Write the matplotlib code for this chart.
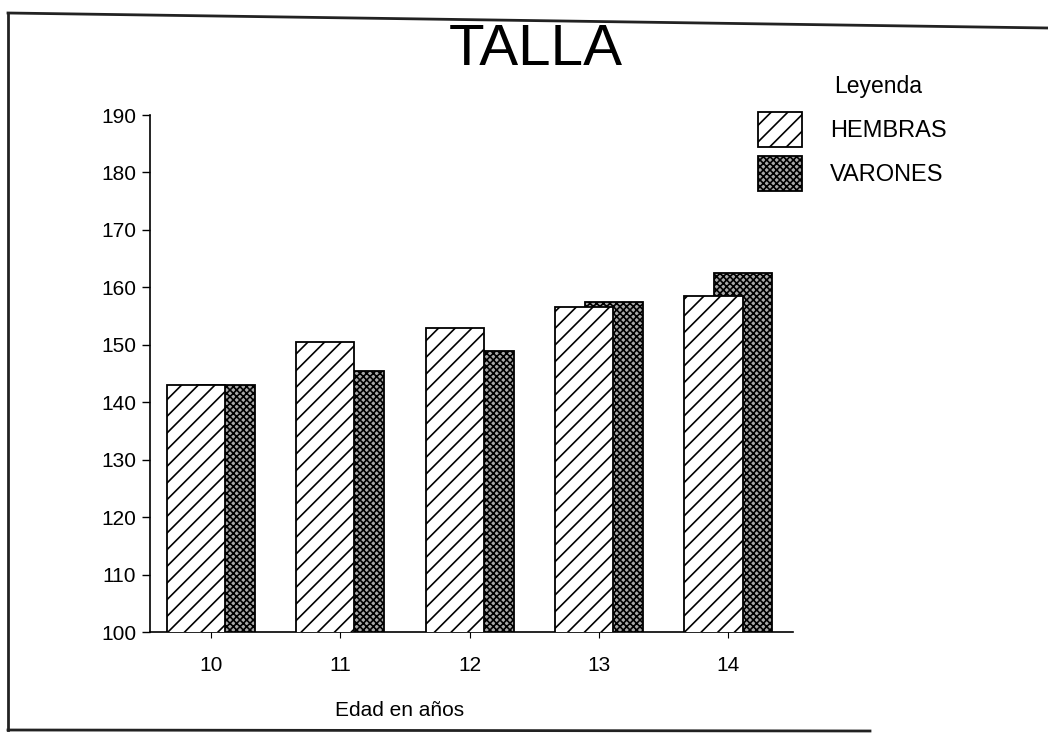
import matplotlib.pyplot as plt
from matplotlib.patches import Patch
from matplotlib.lines import Line2D

plt.rcParams['font.family'] = ['Liberation Sans', 'DejaVu Sans']
plt.rcParams['hatch.linewidth'] = 1.2

edades = [10, 11, 12, 13, 14]
hembras = [143, 150.5, 153, 156.5, 158.5]
varones = [143, 145.5, 149, 157.5, 162.5]
yticks = [100, 110, 120, 130, 140, 150, 160, 170, 180, 190]

W, H = 1048, 738
fig = plt.figure(figsize=(W / 100, H / 100), dpi=100)
ax = fig.add_axes([150 / W, 1 - 632 / H, 643 / W, 517 / H])

width = 0.45
shift = 0.115
gris = '#a8a8a8'
# varones behind, hembras overlapping in front
ax.bar([e + shift for e in edades], varones, width=width,
       facecolor=gris, edgecolor='black', hatch='xxxxx', linewidth=1.3, zorder=2)
ax.bar([e - shift for e in edades], hembras, width=width,
       facecolor='white', edgecolor='black', hatch='//', linewidth=1.3, zorder=3)

ax.set_xlim(9.53, 14.5)
ax.set_ylim(100, 190)
ax.set_yticks(yticks)
ax.set_xticks(edades)
ax.tick_params(axis='y', labelsize=15, length=6, width=1, pad=4)
ax.tick_params(axis='x', labelsize=15, length=4, width=0.8, pad=13)
for s in ['top', 'right']:
    ax.spines[s].set_visible(False)
ax.spines['left'].set_linewidth(1.2)
ax.spines['bottom'].set_linewidth(1.2)

fig.text(536 / W, 1 - 50 / H, 'TALLA', fontsize=42, ha='center', va='center')
fig.text(335 / W, 1 - 711 / H, 'Edad en años', fontsize=15, ha='left', va='center')

handles = [
    Patch(facecolor='white', edgecolor='black', hatch='//', linewidth=1.3, label='HEMBRAS'),
    Patch(facecolor=gris, edgecolor='black', hatch='xxxxx', linewidth=1.3, label='VARONES'),
]
fig.legend(handles=handles, loc='upper left', bbox_to_anchor=(758 / W, 1 - 112 / H),
           bbox_transform=fig.transFigure, frameon=False, fontsize=17,
           borderpad=0, borderaxespad=0, handlelength=1.85, handleheight=1.9,
           labelspacing=0.4, handletextpad=1.2)
fig.text(834 / W, 1 - 86 / H, 'Leyenda', fontsize=16.5, ha='left', va='center')

# outer frame around the chart
frame = [((8, 13), (1048, 28)), ((8, 13), (8, 730)), ((8, 730), (870, 731))]
for (x0, y0), (x1, y1) in frame:
    fig.add_artist(Line2D([x0 / W, x1 / W], [1 - y0 / H, 1 - y1 / H],
                          transform=fig.transFigure, color='#222222', linewidth=2))

fig.savefig('out.png', dpi=100)
